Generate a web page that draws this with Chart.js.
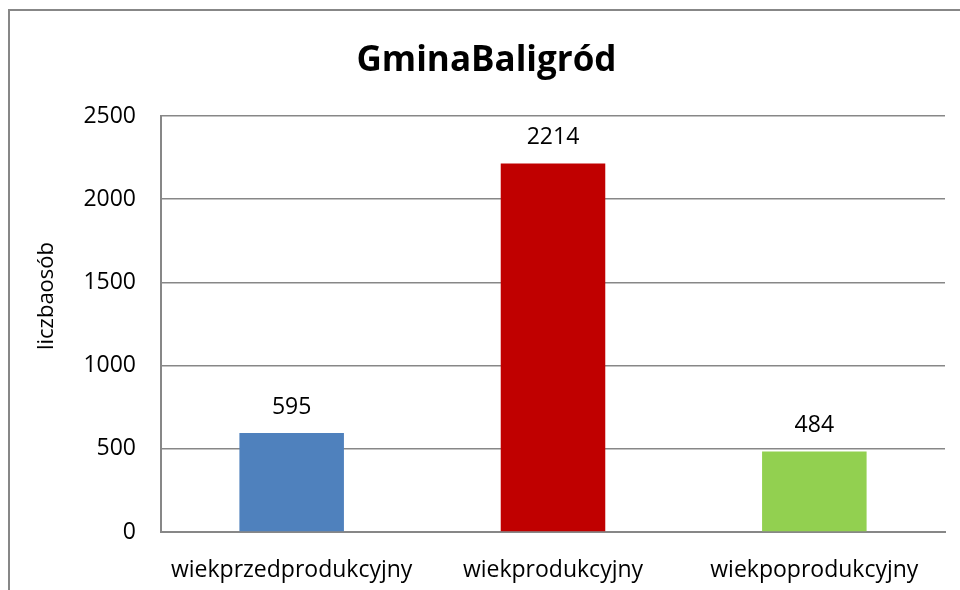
<!DOCTYPE html>
<html>
<head>
<meta charset="utf-8">
<title>GminaBaligród</title>
<script src="https://cdn.jsdelivr.net/npm/chart.js@4"></script>
<style>
    html, body { margin: 0; padding: 0; background: #ffffff; }
    #wrap { width: 960px; height: 590px; }
</style>
</head>
<body>
<div id="wrap"><canvas id="chart" width="960" height="590"></canvas></div>
<script>
// Chart data
const chartTitle = 'GminaBaligród';
const yAxisTitle = 'liczbaosób';
const categories = ['wiekprzedprodukcyjny', 'wiekprodukcyjny', 'wiekpoprodukcyjny'];
const populationValues = [595, 2214, 484];
const barColors = ['#4f81bd', '#c00000', '#92d050'];
const yMin = 0;
const yMax = 2500;
const yStep = 500;

const lineGray = '#878787';
const fontFamily = '"Open Sans", "Liberation Sans", sans-serif';

// Draws the outer chart frame (only left and top edges are visible)
const framePlugin = {
    id: 'frame',
    beforeDraw(chart) {
        const ctx = chart.ctx;
        ctx.save();
        ctx.strokeStyle = lineGray;
        ctx.lineWidth = 2;
        ctx.beginPath();
        ctx.moveTo(9, chart.height + 5);
        ctx.lineTo(9, 10);
        ctx.lineTo(chart.width + 5, 10);
        ctx.stroke();
        ctx.restore();
    }
};

// Vertical axis title, placed a bit above the middle of the axis like in Excel
const axisTitlePlugin = {
    id: 'axisTitle',
    afterDraw(chart) {
        const ctx = chart.ctx;
        const area = chart.chartArea;
        ctx.save();
        ctx.translate(47, (area.top + area.bottom) / 2 - 28);
        ctx.rotate(-Math.PI / 2);
        ctx.font = '22px ' + fontFamily;
        ctx.fillStyle = '#000000';
        ctx.textAlign = 'center';
        ctx.textBaseline = 'middle';
        ctx.fillText(yAxisTitle, 0, 0);
        ctx.restore();
    }
};

// Value labels above each bar
const valueLabelPlugin = {
    id: 'valueLabels',
    afterDatasetsDraw(chart) {
        const ctx = chart.ctx;
        ctx.save();
        ctx.font = '23px ' + fontFamily;
        ctx.fillStyle = '#000000';
        ctx.textAlign = 'center';
        ctx.textBaseline = 'middle';
        chart.data.datasets.forEach((dataset, i) => {
            chart.getDatasetMeta(i).data.forEach((bar, j) => {
                ctx.fillText(String(dataset.data[j]), bar.x, bar.y - 26);
            });
        });
        ctx.restore();
    }
};

new Chart(document.getElementById('chart'), {
    type: 'bar',
    data: {
        labels: categories,
        datasets: [{
            label: yAxisTitle,
            data: populationValues,
            backgroundColor: barColors,
            borderWidth: 0,
            barPercentage: 0.4,
            categoryPercentage: 1.0
        }]
    },
    options: {
        responsive: false,
        animation: false,
        events: [],
        layout: {
            padding: { left: 28, right: 15, top: 0, bottom: 0 }
        },
        plugins: {
            legend: { display: false },
            tooltip: { enabled: false },
            title: {
                display: true,
                text: chartTitle,
                color: '#000000',
                font: { family: fontFamily, size: 35, weight: 'bold' },
                padding: { top: 40, bottom: 34 }
            }
        },
        scales: {
            x: {
                grid: { display: false },
                border: { display: true, color: lineGray, width: 2 },
                ticks: {
                    color: '#000000',
                    font: { family: fontFamily, size: 23 },
                    padding: 17,
                    maxRotation: 0
                },
                afterFit(scale) { scale.height = 58; }
            },
            y: {
                min: yMin,
                max: yMax,
                grid: {
                    color: lineGray,
                    lineWidth: 1.5,
                    drawTicks: false
                },
                border: { display: true, color: lineGray, width: 2 },
                ticks: {
                    stepSize: yStep,
                    color: '#000000',
                    font: { family: fontFamily, size: 23 },
                    padding: 25,
                    callback: value => String(value)
                },
                afterFit(scale) { scale.width = 133; }
            }
        }
    },
    plugins: [framePlugin, axisTitlePlugin, valueLabelPlugin]
});
</script>
</body>
</html>
